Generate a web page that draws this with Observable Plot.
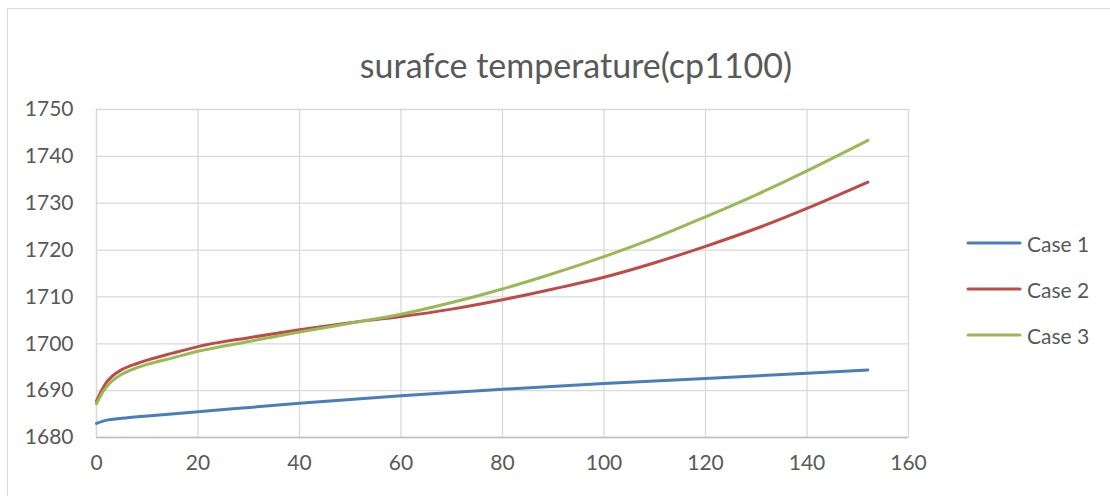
<!DOCTYPE html>
<html><head><meta charset="utf-8">
<script src="https://cdn.jsdelivr.net/npm/d3@7"></script>
<script src="https://cdn.jsdelivr.net/npm/@observablehq/plot@0.6"></script>
<style>
body{margin:0;background:#fff;}
#wrap{position:relative;width:1110px;height:496px;font-family:Lato,"Open Sans",sans-serif;}
#frame{position:absolute;left:7px;top:8px;width:1110px;height:496px;border:1px solid #d9d9d9;box-sizing:border-box;}
#title{position:absolute;left:76px;width:1000px;top:44px;text-align:center;font-size:34px;color:#595959;}
#legend{position:absolute;left:966px;top:220px;font-size:21px;color:#595959;}
.li{height:46px;display:flex;align-items:center;}
.li svg{margin-right:5px;}
</style></head><body>
<div id="wrap"><div id="frame"></div><div id="title">surafce temperature(cp1100)</div><div id="chart"></div><div id="legend"></div></div>
<script>
const seriesNames = ["Case 1","Case 2","Case 3"];
const colors = ["#4a7ebb","#be4b48","#98b954"];
const xs1 = [0,2,5,10,20,40,60,80,100,120,140,152];
const case1 = [1683,1683.7,1684.1,1684.6,1685.5,1687.3,1688.9,1690.3,1691.5,1692.6,1693.7,1694.4];
const xs23 = [0,1,2,3,5,8,10,15,20,30,40,50,60,70,80,90,100,110,120,130,140,152];
const case2 = [1687.8,1690,1691.8,1693,1694.5,1695.8,1696.5,1698,1699.4,1701.3,1703,1704.5,1705.8,1707.4,1709.4,1711.7,1714.2,1717.3,1720.8,1724.6,1728.9,1734.5];
const case3 = [1687.2,1689.3,1690.8,1692,1693.5,1694.9,1695.6,1697,1698.4,1700.5,1702.5,1704.4,1706.3,1708.8,1711.7,1715,1718.6,1722.6,1727.1,1731.8,1736.9,1743.4];
const xTicks = [0,20,40,60,80,100,120,140,160];
const yTicks = [1680,1690,1700,1710,1720,1730,1740,1750];

const data = [
  ...xs1.map((x,i)=>({x, y:case1[i], s:seriesNames[0]})),
  ...xs23.map((x,i)=>({x, y:case2[i], s:seriesNames[1]})),
  ...xs23.map((x,i)=>({x, y:case3[i], s:seriesNames[2]}))
];

const chart = Plot.plot({
  width:1110, height:496,
  marginLeft:96, marginRight:202, marginTop:109, marginBottom:59,
  style:{fontFamily:"Lato, 'Open Sans', sans-serif", fontSize:"21px", color:"#595959", background:"transparent"},
  x:{domain:[0,160], ticks:xTicks, tickSize:0, tickPadding:18, tickFormat:"d", label:null},
  y:{domain:[1680,1750], ticks:yTicks, tickSize:0, tickPadding:23, tickFormat:"d", label:null},
  color:{domain:seriesNames, range:colors},
  marks:[
    Plot.gridX(xTicks,{stroke:"#d9d9d9", strokeOpacity:1, strokeWidth:1.3}),
    Plot.gridY(yTicks,{stroke:"#d9d9d9", strokeOpacity:1, strokeWidth:1.3}),
    Plot.ruleY([1680],{stroke:"#bfbfbf", strokeWidth:1.5}),
    Plot.ruleX([0],{stroke:"#d9d9d9", strokeWidth:1.3}),
    Plot.line(data,{x:"x", y:"y", stroke:"s", z:"s", strokeWidth:3, curve:"monotone-x", strokeLinecap:"round"})
  ]
});
chart.style.position="absolute"; chart.style.left="0"; chart.style.top="0";
document.getElementById("chart").appendChild(chart);

const leg = document.getElementById("legend");
seriesNames.forEach((n,i)=>{
  const d=document.createElement("div"); d.className="li";
  d.innerHTML=`<svg width="56" height="6"><line x1="2" y1="3" x2="54" y2="3" stroke="${colors[i]}" stroke-width="3" stroke-linecap="round"/></svg><span>${n}</span>`;
  leg.appendChild(d);
});
</script></body></html>
